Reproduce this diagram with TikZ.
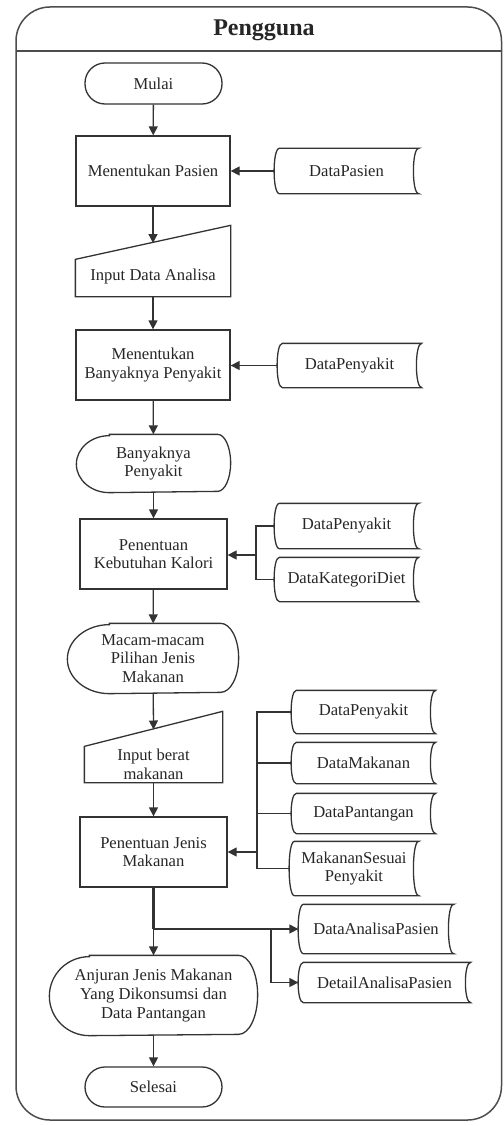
\documentclass[tikz,border=0pt]{standalone}
\usepackage{fontspec}
\setmainfont{Liberation Serif}
\usetikzlibrary{arrows.meta,calc}
\definecolor{ink}{HTML}{333333}
\definecolor{txt}{HTML}{262626}
\begin{document}
\begin{tikzpicture}[x=1pt,y=-1pt,
  line width=1.3pt, draw=ink,
  every node/.style={font=\fontsize{16.6}{18.7}\selectfont, text=txt, inner sep=0pt, align=center},
  proc/.style={draw, rectangle, minimum width=#1, minimum height=70},
  proc/.default=154,
  term/.style={draw, rectangle, rounded corners=20, minimum width=137, minimum height=41},
  holder/.style={minimum width=#1},
  arr/.style={-{Triangle[length=9pt,width=9pt]}},
  trunk/.style={line width=2.2pt}
]
\useasboundingbox (0,0) rectangle (503,1126);

% swimlane frame and header
\draw[line width=1.5pt, draw=black!70, rounded corners=34]
  (16,560) -- (16,7) -- (501.5,7) -- (501.5,1120) -- (16,1120) -- cycle;
\draw[line width=1.5pt, draw=black!70] (16,51) -- (501.5,51);
\node[anchor=base, font=\bfseries\fontsize{24}{26}\selectfont] (title) at (264,35.5) {Pengguna};

% main flow
\node[term] (start) at (153.5,83.5) {Mulai};
\node[proc] (mp) at (153,171) {Menentukan Pasien};
\node[holder=154, minimum height=70] (ida) at (153,261) {};
\node (ida-t) at (153,277) {Input Data Analisa};
\node[proc] (mbp) at (153,365) {Menentukan\\Banyaknya Penyakit};
\node[holder=153, minimum height=57] (bp) at (153.5,463.5) {Banyaknya\\Penyakit};
\node[proc=147] (pkk) at (153.5,554) {Penentuan\\Kebutuhan Kalori};
\node[holder=170, minimum height=69] (mpj) at (153,658.5) {Macam-macam\\Pilihan Jenis\\Makanan};
\node[holder=137, minimum height=70] (ibm) at (153.5,747) {};
\node (ibm-t) at (153.5,764) {Input berat\\makanan};
\node[proc=147] (pjm) at (153.5,852) {Penentuan Jenis\\Makanan};
\node[holder=207, minimum height=79] (anj) at (153.5,995.5) {Anjuran Jenis Makanan\\Yang Dikonsumsi dan\\Data Pantangan};
\node[term, minimum height=40] (end) at (153.5,1087) {Selesai};

% stored data
\node[holder=143, minimum height=44] (dpas) at (346.5,171) {DataPasien};
\node[holder=143, minimum height=43] (dpen1) at (349.5,365.5) {DataPenyakit};
\node[holder=143, minimum height=44] (dpen2) at (346.5,526) {DataPenyakit};
\node[holder=143, minimum height=43] (dkd) at (346.5,579.5) {DataKategoriDiet};
\node[holder=143, minimum height=42] (dpen3) at (363.5,712) {DataPenyakit};
\node[holder=143, minimum height=40] (dmak) at (363.5,763) {DataMakanan};
\node[holder=143, minimum height=39] (dpant) at (363.5,813.5) {DataPantangan};
\node[holder=128, minimum height=53] (mspen) at (354,868.5) {MakananSesuai\\Penyakit};
\node[holder=154, minimum height=48] (dap) at (376,929) {DataAnalisaPasien};
\node[holder=171, minimum height=39] (detap) at (384.5,982.5) {DetailAnalisaPasien};

% stored data outlines
\foreach \n in {dpas,dpen1,dpen2,dkd,dpen3,dmak,dpant,mspen,dap,detap}{
  \draw ([xshift=5pt]\n.north west) -- (\n.north east)
    .. controls ([xshift=-7pt]\n.north east) and ([xshift=-7pt]\n.south east) .. (\n.south east)
    -- ([xshift=5pt]\n.south west)
    .. controls ([xshift=-2pt]\n.south west) and ([xshift=-2pt]\n.north west) .. ([xshift=5pt]\n.north west)
    -- cycle;
}

% display outlines
\foreach \n/\a/\c/\h in {bp/33/13/28.5, mpj/42/18/34.5, anj/40/19/39.5}{
  \draw ([xshift=\a pt]\n.north west) -- ([xshift=-\c pt]\n.north east)
    arc[start angle=90, end angle=-90, x radius=\c pt, y radius=\h pt]
    -- ([xshift=\a pt]\n.south west)
    arc[start angle=270, end angle=90, x radius=\a pt, y radius=\h pt]
    -- cycle;
}

% manual input outlines
\foreach \n/\s in {ida/34, ibm/35}{
  \draw ([yshift=-\s pt]\n.north west) -- (\n.north east) -- (\n.south east)
    -- (\n.south west) -- cycle;
}

% entry points on the slanted tops
\coordinate (ida-in) at (153,243);
\coordinate (ibm-in) at (153.5,729.5);

% junctions
\coordinate (j1) at (256,555);
\coordinate (j2) at (257,852);
\coordinate (j3) at (153.5,929);
\coordinate (j4) at (271,929);

% connectors
\draw[arr] (start) -- (mp);
\draw[arr] (dpas) -- (mp);
\draw[arr] (mp) -- (ida-in);
\draw[arr] (ida) -- (mbp);
\draw[arr] (dpen1.west) -- (dpen1.west -| mbp.east);
\draw[arr] (mbp) -- (bp);
\draw[arr] (bp) -- (pkk);
\draw (dpen2.west) -- (dpen2.west -| j1) |- (dkd.west);
\draw[arr] (j1) -- (j1 -| pkk.east);
\draw[arr] (pkk) -- (mpj);
\draw[arr] (mpj) -- (ibm-in);
\draw[arr] (ibm) -- (pjm);
\draw (dpen3.west) -- (dpen3.west -| j2) |- (mspen.west);
\draw (dmak.west) -- (dmak.west -| j2);
\draw (dpant.west) -- (dpant.west -| j2);
\draw[arr] (j2) -- (j2 -| pjm.east);
\draw[trunk] (pjm) -- (j3);
\draw[arr] (j3) -- (anj);
\draw[arr] (j3) -- (dap.west);
\draw[arr] (j4) |- (detap.west);
\draw[arr] (anj) -- (end);
\end{tikzpicture}
\end{document}
